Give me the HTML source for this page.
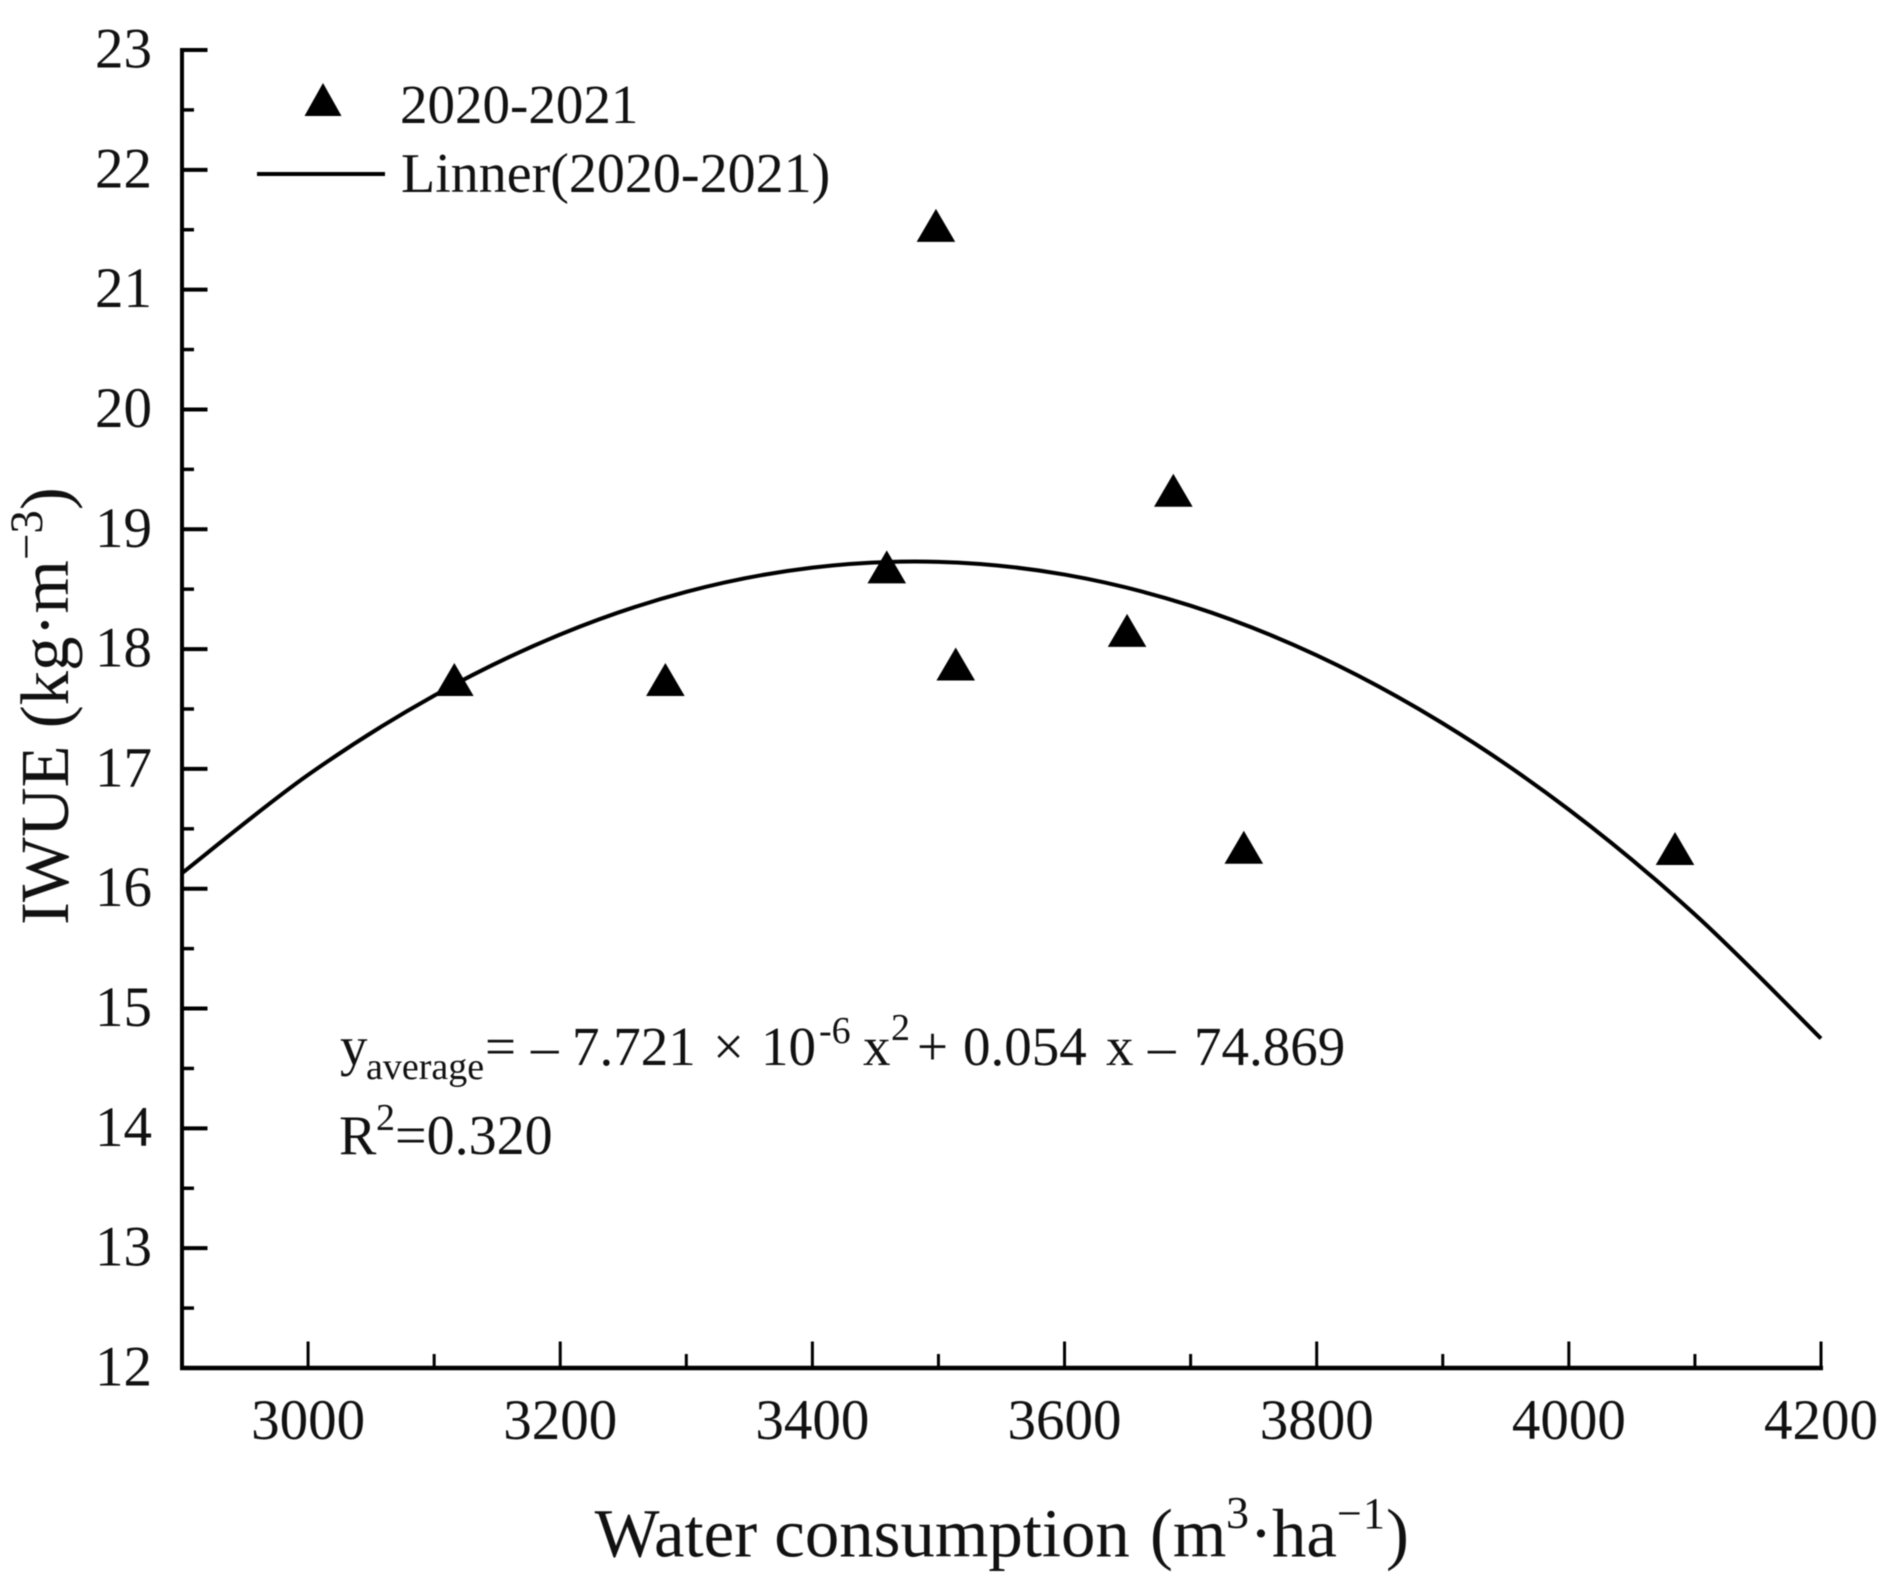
<!DOCTYPE html>
<html lang="en">
<head>
<meta charset="utf-8">
<title>IWUE vs Water consumption</title>
<style>
html,body{margin:0;padding:0;background:#fff;width:1894px;height:1586px;overflow:hidden}
svg{display:block;filter:blur(0.5px)}
text{font-family:"Liberation Serif",serif;fill:#111}
</style>
</head>
<body>
<svg id="chart" xmlns="http://www.w3.org/2000/svg" width="1894" height="1586" viewBox="0 0 1894 1586">
  <rect x="0" y="0" width="1894" height="1586" fill="#fff"/>
  <g id="axes"></g>
  <g id="marks"></g>

  <g>
    <polygon points="323,83 341.5,116 304.5,116" fill="#000"/>
    <text x="400" y="123" font-size="55">2020-2021</text>
    <line x1="257" y1="174" x2="385" y2="174" stroke="#000" stroke-width="4"/>
    <text x="401" y="192" font-size="56">Linner(2020-2021)</text>
  </g>

  <text y="1065" font-size="55"><tspan x="340">y</tspan><tspan x="366" y="1079" font-size="38">average</tspan><tspan x="485" y="1065">=</tspan><tspan x="531">–</tspan><tspan x="572">7.721</tspan><tspan x="713">×</tspan><tspan x="761">10</tspan><tspan x="819" y="1043" font-size="38">-6</tspan><tspan x="863" y="1065">x</tspan><tspan x="891" y="1040" font-size="38">2</tspan><tspan x="917" y="1065">+</tspan><tspan x="963">0.054</tspan><tspan x="1106">x</tspan><tspan x="1148">–</tspan><tspan x="1194">74.869</tspan></text>
  <text y="1154" font-size="56"><tspan x="339">R</tspan><tspan x="376" y="1130" font-size="38">2</tspan><tspan x="395" y="1154">=0.320</tspan></text>

  <text y="1556.5" font-size="68.8"><tspan x="594.6">Water consumption</tspan><tspan x="1150">(m</tspan><tspan x="1226" y="1528" font-size="46">3</tspan><tspan x="1249.5" y="1556.5">·</tspan><tspan x="1272">ha</tspan><tspan x="1337" y="1528" font-size="44">−</tspan><tspan x="1363" font-size="44">1</tspan><tspan x="1386" y="1556.5">)</tspan></text>
  <text transform="translate(68,925) rotate(-90)" x="0" y="0" font-size="68.8">IWUE (kg·m<tspan dy="-26" font-size="47">−3</tspan><tspan dy="26">)</tspan></text>
</svg>

<script>
var xTickLabels = [3000, 3200, 3400, 3600, 3800, 4000, 4200];
var xMinorTicks = [3100, 3300, 3500, 3700, 3900, 4100];
var yTickLabels = [12, 13, 14, 15, 16, 17, 18, 19, 20, 21, 22, 23];
var yMinorTicks = [12.5, 13.5, 14.5, 15.5, 16.5, 17.5, 18.5, 19.5, 20.5, 21.5, 22.5];

var pointWater = [3116, 3283.4, 3459, 3498, 3513.7, 3649.6, 3686.3, 3742.2, 4084.2];
var pointIwue = [17.70, 17.70, 18.64, 21.49, 17.83, 18.11, 19.28, 16.30, 16.29];

var curveWater = [2900, 3000, 3100, 3200, 3300, 3400, 3500, 3600, 3700, 3800, 3900, 4000, 4100, 4200];
var curveIwue = [16.13, 16.95, 17.612, 18.122, 18.478, 18.68, 18.728, 18.622, 18.362, 17.948, 17.38, 16.66, 15.785, 14.75];

var xDomain = [2900, 4200];
var yDomain = [12, 23];

var NS = 'http://www.w3.org/2000/svg';
var axes = document.getElementById('axes');
var marks = document.getElementById('marks');

function xScale(v) {
  return 182 + (v - xDomain[0]) / (xDomain[1] - xDomain[0]) * (1821 - 182);
}
function yScale(v) {
  return 1368 - (v - yDomain[0]) / (yDomain[1] - yDomain[0]) * (1368 - 50);
}
function make(tag, attrs, parent) {
  var el = document.createElementNS(NS, tag);
  for (var k in attrs) { el.setAttribute(k, attrs[k]); }
  parent.appendChild(el);
  return el;
}

var yAxisLine = make('line', {x1: 182, y1: 48, x2: 182, y2: 1370, stroke: '#000', 'stroke-width': 4}, axes);


var xAxisLine = make('line', {x1: 180, y1: 1368, x2: 1823, y2: 1368, stroke: '#000', 'stroke-width': 4.5}, axes);



xTickLabels.forEach(function (v) {
  var t = make('line', {x1: xScale(v), y1: 1368, x2: xScale(v), y2: 1341.5, stroke: '#000', 'stroke-width': 3}, axes);
  
  
  var l = make('text', {x: xScale(v), y: 1439, 'font-size': 57, 'text-anchor': 'middle'}, axes);
  
  
  l.textContent = v;
});
xMinorTicks.forEach(function (v) {
  var t = make('line', {x1: xScale(v), y1: 1368, x2: xScale(v), y2: 1354, stroke: '#000', 'stroke-width': 3}, axes);
  
  
});
yTickLabels.forEach(function (v) {
  var t = make('line', {x1: 182, y1: yScale(v), x2: 207.5, y2: yScale(v), stroke: '#000', 'stroke-width': 4}, axes);
  
  
  var l = make('text', {x: 152, y: yScale(v) + 17.5, 'font-size': 57, 'text-anchor': 'end'}, axes);
  
  
  l.textContent = v;
});
yMinorTicks.forEach(function (v) {
  var t = make('line', {x1: 182, y1: yScale(v), x2: 194, y2: yScale(v), stroke: '#000', 'stroke-width': 3.5}, axes);
  
  
});

function smoothPath(xs, ys) {
  var px = xs.map(xScale), py = ys.map(yScale), n = px.length;
  var d = 'M' + px[0] + ' ' + py[0];
  for (var i = 0; i < n - 1; i++) {
    var i0 = Math.max(i - 1, 0), i3 = Math.min(i + 2, n - 1);
    var c1x = px[i] + (px[i + 1] - px[i0]) / 6, c1y = py[i] + (py[i + 1] - py[i0]) / 6;
    var c2x = px[i + 1] - (px[i3] - px[i]) / 6, c2y = py[i + 1] - (py[i3] - py[i]) / 6;
    d += ' C' + c1x + ' ' + c1y + ' ' + c2x + ' ' + c2y + ' ' + px[i + 1] + ' ' + py[i + 1];
  }
  return d;
}
var fit = make('path', {d: smoothPath(curveWater, curveIwue), fill: 'none', stroke: '#000', 'stroke-width': 4}, marks);



pointWater.forEach(function (w, i) {
  var cx = xScale(w), cy = yScale(pointIwue[i]);
  var pts = cx + ',' + (cy - 22) + ' ' + (cx + 19.3) + ',' + (cy + 11) + ' ' + (cx - 19.3) + ',' + (cy + 11);
  var tri = make('polygon', {points: pts, fill: '#000'}, marks);
  
  
});
</script>
</body>
</html>
